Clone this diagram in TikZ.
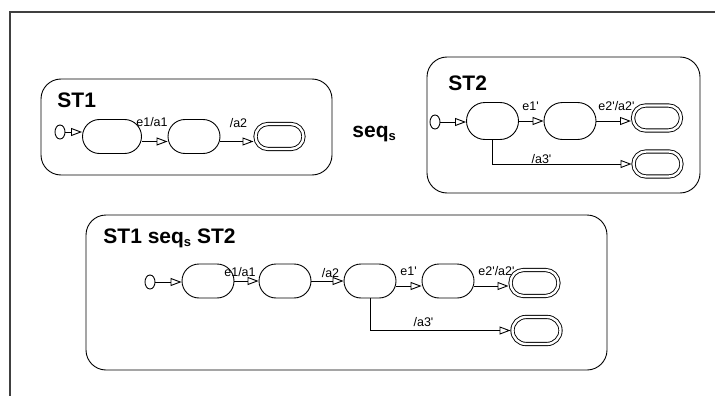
\documentclass[tikz,border=0pt]{standalone}
\usepackage{fontspec}
\setmainfont{Liberation Sans}
\usetikzlibrary{shapes.geometric, arrows.meta, positioning}
\newcommand{\prm}{\textquotesingle}
\newcommand{\subs}{\raisebox{-0.3ex}{\fontsize{13}{14}\selectfont s}}

\begin{document}
\begin{tikzpicture}[x=1pt, y=-1pt, node distance=80pt, line width=0.9pt]
    \tikzstyle{container} = [rectangle, draw, rounded corners=20pt, inner sep=0pt]
    \tikzstyle{heading} = [anchor=base west, inner sep=0pt, font=\fontsize{21}{25}\selectfont\bfseries]
    \tikzstyle{stnode} = [rectangle, draw, rounded corners=17pt, minimum width=52pt, minimum height=34pt, inner sep=0pt]
    \tikzstyle{finalst} = [rectangle, draw, double, double distance=2.4pt, rounded corners=12.5pt, minimum width=48pt, minimum height=25pt, inner sep=0pt, outer sep=2pt]
    \tikzstyle{initst} = [ellipse, draw, minimum width=10pt, minimum height=14pt, inner sep=0pt]
    \tikzstyle{lbl} = [inner sep=0pt, font=\fontsize{12.5}{14}\selectfont]
    \tikzstyle{line} = [draw, -{Triangle[open, length=11pt, width=8pt]}]

    \useasboundingbox (0,0) rectangle (715,396);
    \draw [line width=1.4pt, black!75] (10,396) -- (10,12) -- (715,12);

    \node [container, minimum width=291pt, minimum height=96pt] (st1) at (186.5,127) {};
    \node [heading] (st1title) at (57,107) {ST1};
    \node [initst] (st1init) at (60,132) {};
    \node [stnode, minimum width=59pt] (st1a) at (112,136.5) {};
    \node [stnode, right of=st1a, node distance=82pt] (st1b) {};
    \node [finalst, right of=st1b, node distance=85.5pt] (st1end) {};
    \node [lbl] (st1e1) at (152,122) {e1/a1};
    \node [lbl] (st1a2) at (238.5,123) {/a2};

    \path [line] (st1init) -- (st1init -| st1a.west);
    \path [line] ([yshift=-5pt]st1a.east) -- ([yshift=-5pt]st1b.west);
    \path [line] ([yshift=-5pt]st1b.east) -- ([yshift=-5pt]st1end.west);

    \node [heading] (seqs) at (352,137) {seq\subs};

    \node [container, minimum width=273pt, minimum height=136pt] (st2) at (563.5,125) {};
    \node [heading] (st2title) at (448,90) {ST2};
    \node [initst] (st2init) at (435,122) {};
    \node [stnode, minimum height=37pt, rounded corners=18.5pt] (st2a) at (492.5,121) {};
    \node [stnode, minimum height=37pt, rounded corners=18.5pt, right of=st2a, node distance=77.5pt] (st2b) {};
    \node [finalst] (st2end) at (657,118) {};
    \node [finalst] (st2alt) at (657.5,164) {};
    \node [lbl] (st2e1) at (530.5,106) {e1\prm};
    \node [lbl] (st2e2) at (616.5,106) {e2\prm/a2\prm};
    \node [lbl] (st2a3) at (541.5,159) {/a3\prm};

    \path [line] (st2init) -- (st2init -| st2a.west);
    \path [line] (st2a) -- (st2b);
    \path [line] (st2b.east) -- (st2b.east -| st2end.west);
    \path [line] (st2a.south) |- (st2alt.west);

    \node [container, minimum width=521pt, minimum height=155pt] (seq) at (346.5,292.5) {};
    \node [heading] (seqtitle) at (103,243) {ST1 seq\subs{} ST2};
    \node [initst] (init) at (150,282) {};
    \node [stnode] (a) at (208,281) {};
    \node [stnode, right of=a, node distance=77pt] (b) {};
    \node [stnode, right of=b, node distance=85pt] (c) {};
    \node [stnode, right of=c, node distance=78pt] (d) {};
    \node [finalst, minimum height=26pt, rounded corners=13pt] (end) at (534.5,283) {};
    \node [finalst, minimum height=27pt, rounded corners=13.5pt] (alt) at (536.5,330.5) {};
    \node [lbl] (e1) at (240,272) {e1/a1};
    \node [lbl] (a2) at (330.5,273) {/a2};
    \node [lbl] (e1p) at (408.5,271) {e1\prm};
    \node [lbl] (e2p) at (496.5,271) {e2\prm/a2\prm};
    \node [lbl] (a3p) at (423.5,322) {/a3\prm};

    \path [line] (init) -- (init -| a.west);
    \path [line] (a) -- (b);
    \path [line] (b) -- (c);
    \path [line] ([yshift=-5pt]c.east) -- ([yshift=-5pt]d.west);
    \path [line] ([yshift=-5pt]d.east) -- ([yshift=-5pt]d.east -| end.west);
    \path [line] (c.south) |- (alt.west);
\end{tikzpicture}
\end{document}
